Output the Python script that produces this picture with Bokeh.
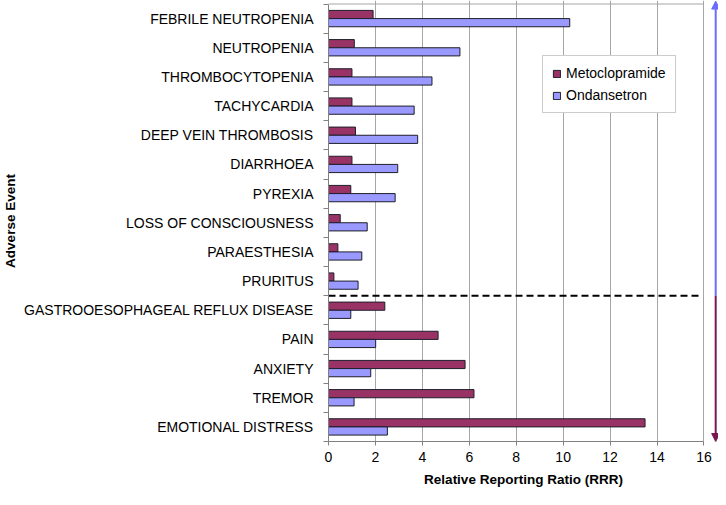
from bokeh.plotting import figure
from bokeh.models import ColumnDataSource, FixedTicker, Arrow, NormalHead, Range1d
from bokeh.transform import dodge
from bokeh.embed import file_html
from bokeh.resources import INLINE

# ---- data (top-to-bottom order as in the chart) ----
events = [
    "FEBRILE NEUTROPENIA", "NEUTROPENIA", "THROMBOCYTOPENIA", "TACHYCARDIA",
    "DEEP VEIN THROMBOSIS", "DIARRHOEA", "PYREXIA", "LOSS OF CONSCIOUSNESS",
    "PARAESTHESIA", "PRURITUS", "GASTROOESOPHAGEAL REFLUX DISEASE", "PAIN",
    "ANXIETY", "TREMOR", "EMOTIONAL DISTRESS",
]
metoclopramide = [1.9, 1.1, 1.0, 1.0, 1.15, 1.0, 0.95, 0.5, 0.4, 0.23,
                  2.4, 4.67, 5.82, 6.2, 13.49]
ondansetron = [10.28, 5.6, 4.41, 3.65, 3.8, 2.95, 2.84, 1.65, 1.42, 1.26,
               0.95, 2.01, 1.8, 1.09, 2.51]
x_ticks = [0, 2, 4, 6, 8, 10, 12, 14, 16]

n = len(events)
ypos = [n - 1 - i for i in range(n)]
# number of events signalled for ondansetron (listed first)
n_ond = sum(1 for m, o in zip(metoclopramide, ondansetron) if o > m)
split_y = n - n_ond - 0.5

FONT = "Liberation Sans"
METO = "#993366"
OND = "#9999FF"
BLUE_ARROW = "#6b6bff"
PURPLE_ARROW = "#7b1650"
GRID = "#a6a6a6"
AXIS = "#808080"

src = ColumnDataSource(dict(y=ypos, meto=metoclopramide, ond=ondansetron))

X_END = 16.62
p = figure(width=718, height=489, output_backend="svg", toolbar_location=None,
           x_range=Range1d(0, X_END), y_range=Range1d(-0.5, n - 0.38),
           min_border_left=0, min_border_right=0, min_border_top=0,
           min_border_bottom=0)
p.outline_line_color = None
p.background_fill_color = "white"

p.hbar(y=dodge("y", 0.14), right="meto", left=0, height=0.28, source=src,
       fill_color=METO, line_color="#1e1e2a", line_width=1,
       legend_label="Metoclopramide")
p.hbar(y=dodge("y", -0.14), right="ond", left=0, height=0.28, source=src,
       fill_color=OND, line_color="#1e1e2a", line_width=1,
       legend_label="Ondansetron")

# frame top line
p.segment(x0=[x_ticks[0]], y0=[n - 0.5], x1=[x_ticks[-1]], y1=[n - 0.5],
          line_color=GRID, line_width=1)

# dashed separator
p.segment(x0=[0], y0=[split_y], x1=[15.85], y1=[split_y],
          line_color="black", line_width=2, line_dash="7 4")

# arrows
ARROW_X = 16.5
p.add_layout(Arrow(end=NormalHead(size=8, fill_color=BLUE_ARROW, line_color=BLUE_ARROW),
                   x_start=ARROW_X, y_start=split_y, x_end=ARROW_X, y_end=n - 0.4,
                   line_color=BLUE_ARROW, line_width=2))
p.add_layout(Arrow(end=NormalHead(size=8, fill_color=PURPLE_ARROW, line_color=PURPLE_ARROW),
                   x_start=ARROW_X, y_start=split_y, x_end=ARROW_X, y_end=-0.5,
                   line_color=PURPLE_ARROW, line_width=2))

# grids
p.ygrid.visible = False
p.xgrid.ticker = FixedTicker(ticks=x_ticks[1:])
p.xgrid.grid_line_color = GRID
p.xgrid.grid_line_width = 1

# x axis
xa = p.xaxis[0]
xa.ticker = FixedTicker(ticks=x_ticks)
xa.bounds = (x_ticks[0], x_ticks[-1])
xa.axis_line_color = AXIS
xa.major_tick_line_color = AXIS
xa.major_tick_out = 4
xa.major_tick_in = 0
xa.minor_tick_line_color = None
xa.major_label_standoff = 6
xa.major_label_text_font = FONT
xa.major_label_text_font_size = "14px"
xa.major_label_text_color = "black"
xa.axis_label = "Relative Reporting Ratio (RRR)"
xa.axis_label_text_font = FONT
xa.axis_label_text_font_size = "13.5px"
xa.axis_label_text_font_style = "bold"
xa.axis_label_text_color = "black"
xa.axis_label_standoff = 7

# y axis
ya = p.yaxis[0]
ya.ticker = FixedTicker(ticks=ypos, minor_ticks=[y + 0.5 for y in range(-1, n)])
ya.bounds = (-0.5, n - 0.5)
ya.major_label_overrides = {y: e for y, e in zip(ypos, events)}
ya.major_tick_line_color = None
ya.major_tick_out = 0
ya.major_tick_in = 0
ya.minor_tick_line_color = AXIS
ya.minor_tick_out = 5
ya.minor_tick_in = 0
ya.axis_line_color = AXIS
ya.major_label_standoff = 10
ya.major_label_text_font = FONT
ya.major_label_text_font_size = "14px"
ya.major_label_text_color = "black"
ya.axis_label = "Adverse Event"
ya.axis_label_text_font = FONT
ya.axis_label_text_font_size = "13.5px"
ya.axis_label_text_font_style = "bold"
ya.axis_label_text_color = "black"
ya.axis_label_standoff = 3

# legend
lg = p.legend[0]
lg.location = (214, 328)
lg.label_text_font = FONT
lg.label_text_font_size = "14px"
lg.label_text_color = "black"
lg.glyph_width = 9
lg.glyph_height = 9
lg.label_standoff = 5
lg.label_height = 16
lg.spacing = 6
lg.padding = 9
lg.margin = 0
lg.border_line_color = "#9a9a9a"
lg.border_line_width = 1
lg.background_fill_color = "white"
lg.background_fill_alpha = 1

open("out.html", "w").write(file_html(p, INLINE))
